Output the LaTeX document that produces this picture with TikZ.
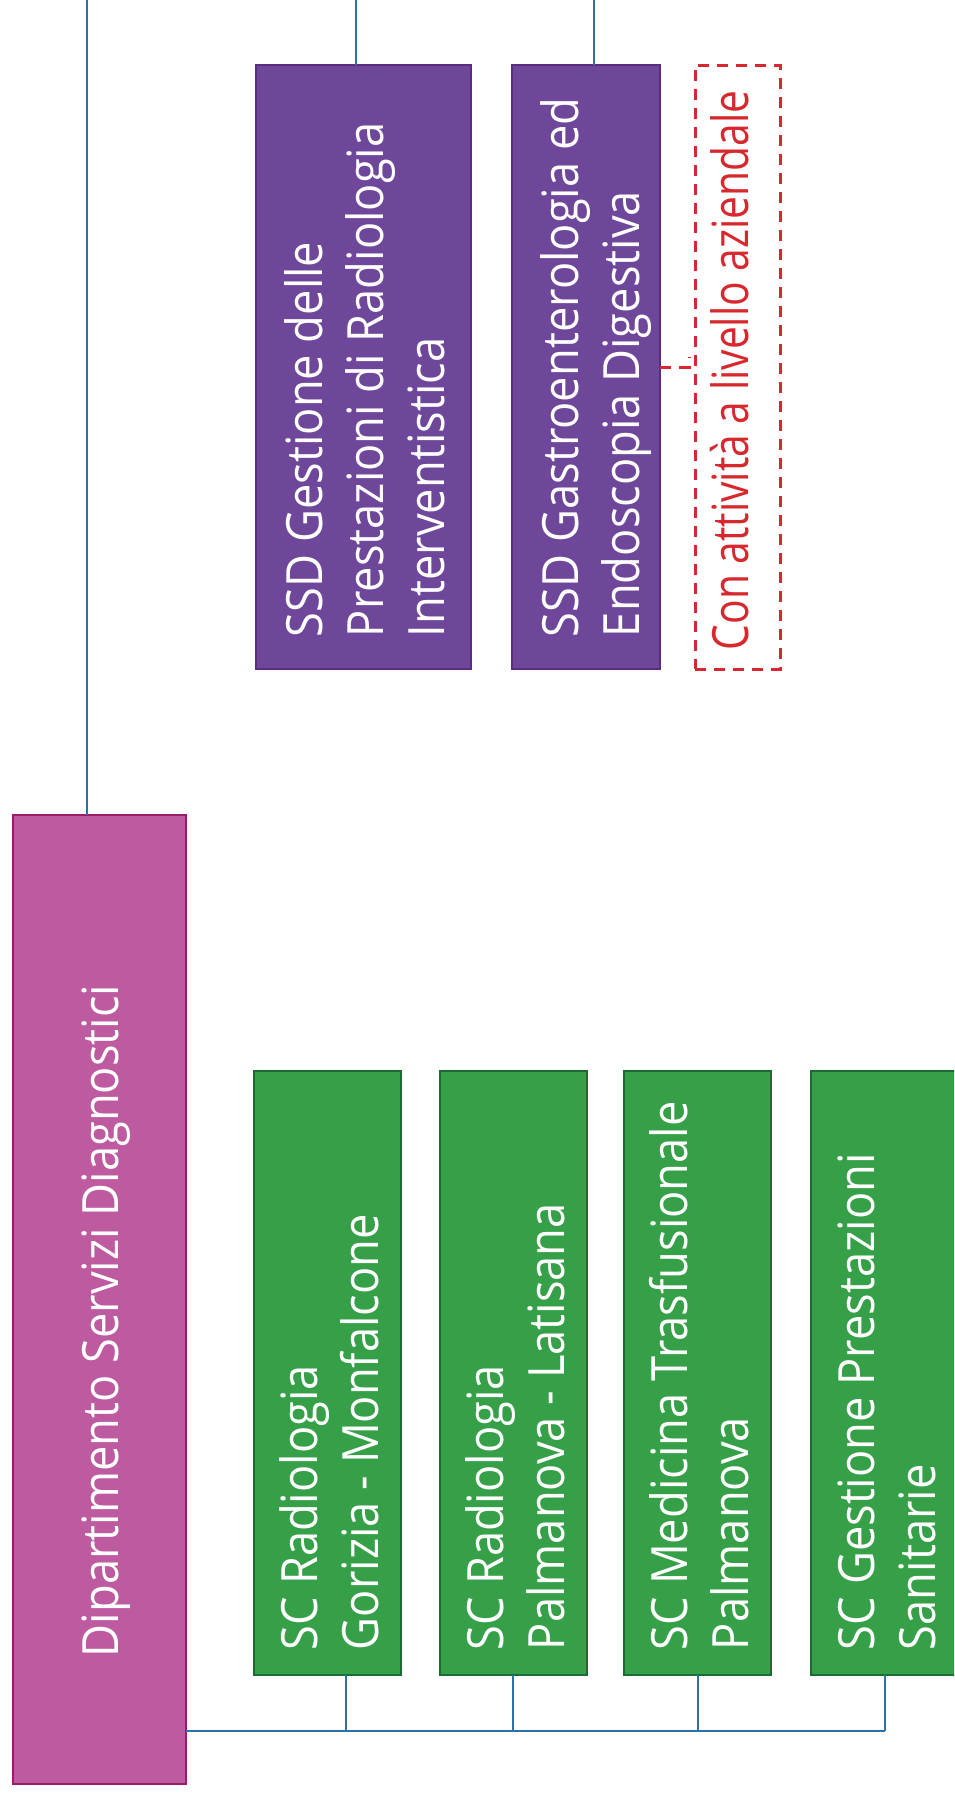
\documentclass[tikz,border=0pt]{standalone}
\usepackage{fontspec}
\setmainfont{Open Sans}[FakeStretch=0.905]
\usepackage{graphicx}
\definecolor{gfill}{HTML}{35A048}
\definecolor{gline}{HTML}{1B6B35}
\definecolor{pfill}{HTML}{6F479A}
\definecolor{pline}{HTML}{5B2C80}
\definecolor{mfill}{HTML}{BE5AA0}
\definecolor{mline}{HTML}{9B1C6C}
\definecolor{lblue}{HTML}{2A72A8}
\definecolor{nred}{HTML}{D7282F}
\newcommand\vlab[3]{\rotatebox{90}{\makebox[#1][l]{\raisebox{#2}[0pt][0pt]{\begin{tabular}[t]{@{}l@{}}#3\end{tabular}}}}}
\tikzset{
  unit/.style={draw, line width=2pt, inner sep=0pt, outer sep=0pt, text=white, font=\fontsize{50}{61}\selectfont},
  gbox/.style={unit, fill=gfill, draw=gline, minimum width=147pt, minimum height=604pt},
  pbox/.style={unit, fill=pfill, draw=pline},
  dbox/.style={unit, fill=mfill, draw=mline},
  notebox/.style={unit, fill=none, draw=nred, text=nred, dash pattern=on 11pt off 8pt, line width=3pt},
  link/.style={draw=lblue, line width=2pt},
  bus/.style={draw=lblue, line width=2.5pt},
  notelink/.style={draw=nred, line width=3pt, dash pattern=on 11pt off 8pt}
}
\begin{document}
\begin{tikzpicture}[x=1pt,y=-1pt]
\useasboundingbox (0,0) rectangle (954,1800);
\clip (0,0) rectangle (954,1800);
\fill[white] (0,0) rectangle (954,1800);

% department
\node[dbox, minimum width=173.4pt, minimum height=969pt] (dip) at (99.3,1299.5)
  {\vlab{715pt}{-18.7pt}{Dipartimento Servizi Diagnostici}};

% SSD units
\node[pbox, minimum width=215pt, minimum height=604pt] (ssd1) at (363.5,367)
  {\vlab{540pt}{41.5pt}{SSD Gestione delle\\Prestazioni di Radiologia\\Interventistica}};
\node[pbox, minimum width=148pt, minimum height=604pt] (ssd2) at (586,367)
  {\vlab{540pt}{8pt}{SSD Gastroenterologia ed\\Endoscopia Digestiva}};
\node[notebox, minimum width=85pt, minimum height=604pt] (note) at (737.5,367)
  {\vlab{566pt}{-10.5pt}{\scalebox{0.9}[1]{Con attività a livello aziendale}}};

% SC units
\node[gbox] (sc1) at (327.5,1373) {\vlab{554pt}{10pt}{SC Radiologia\\Gorizia - Monfalcone}};
\node[gbox] (sc2) at (513.8,1373) {\vlab{554pt}{10pt}{SC Radiologia\\Palmanova - Latisana}};
\node[gbox] (sc3) at (697.8,1373) {\vlab{554pt}{10pt}{SC Medicina Trasfusionale\\Palmanova}};
\node[gbox] (sc4) at (884,1373) {\vlab{554pt}{10pt}{SC Gestione Prestazioni\\Sanitarie}};

% top connectors
\coordinate (t0) at (87,0);
\coordinate (t1) at (356,0);
\coordinate (t2) at (593.5,0);
\draw[link] (t0) -- (t0 |- dip.north);
\draw[link] (t1) -- (t1 |- ssd1.north);
\draw[link] (t2) -- (t2 |- ssd2.north);

% bus
\coordinate (b0) at (186,1731);
\coordinate (b1) at (345.5,1731);
\coordinate (b2) at (512.5,1731);
\coordinate (b3) at (698,1731);
\coordinate (b4) at (885,1731);
\draw[bus] (dip.east |- b0) -- (b4);
\draw[link] (b1) -- (b1 |- sc1.south);
\draw[link] (b2) -- (b2 |- sc2.south);
\draw[link] (b3) -- (b3 |- sc3.south);
\draw[link] (b4) -- (b4 |- sc4.south);

% note connector
\coordinate (nk) at (689,367);
\draw[notelink] (ssd2.east) -- (nk) -- ++(0,-10);
\end{tikzpicture}
\end{document}
